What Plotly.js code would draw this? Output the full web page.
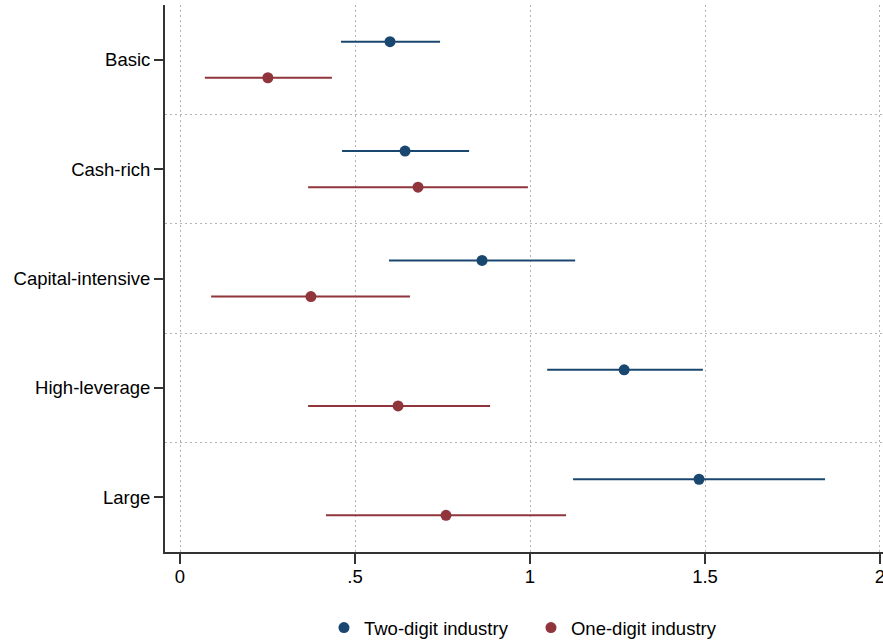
<!DOCTYPE html>
<html>
<head>
<meta charset="utf-8">
<script src="https://cdn.plot.ly/plotly-3.0.1.min.js"></script>
<style>html,body{margin:0;padding:0;background:#fff;}#chart{width:883px;height:644px;}</style>
</head>
<body>
<div id="chart"></div>
<script>
var categories = ["Basic", "Cash-rich", "Capital-intensive", "High-leverage", "Large"];
var twoDigitCoef = [0.600, 0.643, 0.863, 1.269, 1.483];
var twoDigitLow  = [0.460, 0.463, 0.597, 1.049, 1.123];
var twoDigitHigh = [0.743, 0.826, 1.129, 1.494, 1.843];
var oneDigitCoef = [0.251, 0.680, 0.374, 0.623, 0.760];
var oneDigitLow  = [0.071, 0.366, 0.089, 0.366, 0.417];
var oneDigitHigh = [0.434, 0.994, 0.657, 0.886, 1.103];
var xTickVals = [0, 0.5, 1, 1.5, 2];
var xTickText = ["0", ".5", "1", "1.5", "2"];

var offset = 0.165;
var pos = categories.map(function(c, i){ return i + 1; });
function mk(name, coef, lo, hi, color, shift) {
  return {
    type: "scatter", mode: "markers", name: name,
    x: coef,
    y: pos.map(function(p){ return p + shift; }),
    error_x: {
      type: "data", symmetric: false,
      array: hi.map(function(h, i){ return h - coef[i]; }),
      arrayminus: lo.map(function(l, i){ return coef[i] - l; }),
      color: color, thickness: 2, width: 0
    },
    marker: {color: color, size: 11},
    hoverinfo: "x+name"
  };
}
var traces = [
  mk("Two-digit industry", twoDigitCoef, twoDigitLow, twoDigitHigh, "#1a476f", -offset),
  mk("One-digit industry", oneDigitCoef, oneDigitLow, oneDigitHigh, "#90353b", offset)
];
var fnt = {family: "Liberation Sans, Arial, sans-serif", size: 18.5, color: "#000"};
var gridDash = "2px,3px";
var layout = {
  width: 883, height: 644,
  margin: {l: 165, r: 0, t: 5, b: 92, pad: 0, autoexpand: false},
  paper_bgcolor: "#fff", plot_bgcolor: "#fff",
  font: fnt,
  showlegend: true,
  legend: {orientation: "h", x: 0.2214, xanchor: "left", yref: "container", y: 0.0248, yanchor: "middle",
           font: fnt, bgcolor: "rgba(0,0,0,0)", entrywidth: 162, entrywidthmode: "pixels"},
  xaxis: {
    range: [-0.0429, 2.0086], tickvals: xTickVals, ticktext: xTickText,
    showline: true, linecolor: "#333", linewidth: 2,
    ticks: "outside", ticklen: 10, tickwidth: 2, tickcolor: "#333",
    showgrid: true, gridcolor: "#b4b4b4", griddash: gridDash, gridwidth: 1,
    zeroline: false, tickfont: fnt, ticklabeloverflow: "allow", ticklabelstandoff: -3,
    fixedrange: true
  },
  yaxis: {
    range: [5.5, 0.5], tickvals: pos, ticktext: categories,
    showline: true, linecolor: "#333", linewidth: 2,
    ticks: "outside", ticklen: 9, tickwidth: 2, tickcolor: "#333",
    showgrid: false, zeroline: false, tickfont: fnt, ticklabelstandoff: 0,
    minor: {tickvals: [1.5, 2.5, 3.5, 4.5], showgrid: true, gridcolor: "#b4b4b4",
            griddash: gridDash, gridwidth: 1, ticks: "", ticklen: 0},
    fixedrange: true
  }
};
Plotly.newPlot("chart", traces, layout, {displayModeBar: false, staticPlot: true});
</script>
</body>
</html>
